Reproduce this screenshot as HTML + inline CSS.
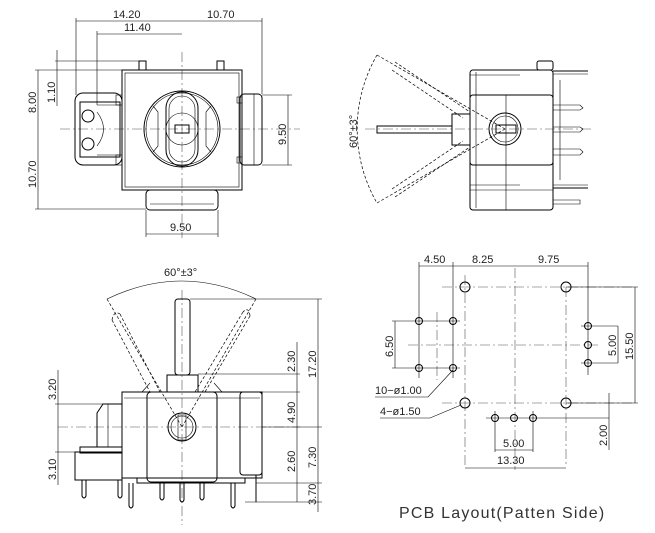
<!DOCTYPE html>
<html><head><meta charset="utf-8"><style>
html,body{margin:0;padding:0;background:#fff;width:655px;height:533px;overflow:hidden}
svg{display:block}
text{font-family:"Liberation Sans",sans-serif;font-size:11px;fill:#222}
.l{stroke:#000;stroke-width:1;fill:none}
.t{stroke:#000;stroke-width:0.6;fill:none}
.c{stroke:#555;stroke-width:0.6;fill:none;stroke-dasharray:10 3 2 3}
.d{stroke:#000;stroke-width:0.7;fill:none;stroke-dasharray:3 2}
</style></head><body>
<svg width="655" height="533" viewBox="0 0 655 533" xmlns="http://www.w3.org/2000/svg">
<!-- ============ TOP LEFT VIEW ============ -->
<g>
<line class="c" x1="182" y1="52" x2="182" y2="238"/>
<line class="c" x1="60" y1="129" x2="300" y2="129"/>
<rect class="l" x="122" y="70" width="120" height="120"/>
<rect class="t" x="125" y="73" width="114" height="114"/>
<rect class="l" x="139" y="61" width="7" height="9"/>
<rect class="l" x="217" y="61" width="7" height="9"/>
<rect class="l" x="75" y="93" width="47" height="72" rx="8"/>
<rect class="l" x="80" y="102" width="40" height="55"/>
<rect class="t" x="116" y="95" width="6" height="10"/>
<rect class="t" x="116" y="155" width="6" height="10"/>
<path class="t" d="M97 105 L120 105 L120 155 L97 155 M97 112 Q110 129 97 146"/>
<circle class="l" cx="88" cy="116" r="6"/>
<circle class="l" cx="88" cy="144" r="6"/>
<rect class="l" x="240" y="94" width="22" height="71" rx="4"/>
<line class="t" x1="254" y1="94" x2="254" y2="165"/>
<rect class="t" x="237" y="97" width="5" height="6"/>
<rect class="t" x="237" y="157" width="5" height="6"/>
<rect class="l" x="146" y="190" width="72" height="20" rx="4"/>
<line class="t" x1="150" y1="204" x2="214" y2="204"/>
<circle class="l" cx="182" cy="129" r="38"/>
<circle class="t" cx="182" cy="129" r="36"/>
<rect class="l" x="166" y="92" width="32" height="74" rx="16"/>
<rect class="t" x="169" y="96" width="26" height="66" rx="13"/>
<circle class="t" cx="182" cy="129" r="16"/>
<rect class="l" x="175" y="125" width="14" height="8"/>
<path class="t" d="M153 106 L158 112 L158 146 L153 152 M211 106 L206 112 L206 146 L211 152"/>
<!-- dims -->
<line class="t" x1="76" y1="18" x2="76" y2="95"/>
<line class="t" x1="97" y1="31" x2="97" y2="105"/>
<line class="t" x1="262" y1="18" x2="262" y2="94"/>
<line class="t" x1="76" y1="21" x2="262" y2="21"/>
<line class="t" x1="97" y1="34" x2="182" y2="34"/>
<text x="113" y="18">14.20</text><text x="207" y="18">10.70</text>
<text x="124" y="31">11.40</text>
<line class="t" x1="55" y1="61" x2="139" y2="61"/>
<line class="t" x1="57" y1="50" x2="57" y2="106"/>
<line class="t" x1="35" y1="70" x2="122" y2="70"/>
<line class="t" x1="38" y1="70" x2="38" y2="209"/>
<line class="t" x1="35" y1="209" x2="146" y2="209"/>
<text transform="translate(55,103) rotate(-90)">1.10</text>
<text transform="translate(36,113) rotate(-90)">8.00</text>
<text transform="translate(36,188) rotate(-90)">10.70</text>
<line class="t" x1="262" y1="95" x2="292" y2="95"/>
<line class="t" x1="262" y1="165" x2="292" y2="165"/>
<line class="t" x1="288" y1="95" x2="288" y2="165"/>
<text transform="translate(286,145) rotate(-90)">9.50</text>
<line class="t" x1="146" y1="210" x2="146" y2="237"/>
<line class="t" x1="218" y1="210" x2="218" y2="237"/>
<line class="t" x1="146" y1="234" x2="218" y2="234"/>
<text x="170" y="231">9.50</text>
</g>
<!-- ============ TOP RIGHT VIEW ============ -->
<g>
<line class="c" x1="365" y1="129" x2="592" y2="129"/>
<path class="d" d="M377 55 A148 148 0 0 0 377 203"/>
<text transform="translate(357,148) rotate(-90)">60°±3°</text>
<rect class="l" x="470" y="70" width="83" height="140" rx="3"/>
<rect class="l" x="470" y="95" width="83" height="70" rx="3"/>
<line class="t" x1="476" y1="72" x2="476" y2="208"/>
<line class="t" x1="506" y1="95" x2="506" y2="210"/>
<line class="t" x1="470" y1="75" x2="520" y2="75"/>
<line class="t" x1="470" y1="185" x2="520" y2="185"/>
<line class="t" x1="470" y1="190" x2="553" y2="190"/>
<rect class="l" x="537" y="61" width="16" height="9" rx="2"/>
<rect class="l" x="377" y="126" width="75" height="7"/>
<rect class="l" x="452" y="114" width="18" height="31"/>
<circle class="l" cx="505" cy="129" r="16"/>
<circle class="t" cx="505" cy="129" r="13"/>
<rect class="l" x="496" y="125" width="20" height="8"/>
<path class="d" d="M395 62 L470 112 M392 70 L463 118 M395 197 L470 147 M392 189 L463 141"/>
<line class="d" x1="377" y1="55" x2="505" y2="129"/><line class="d" x1="377" y1="203" x2="505" y2="129"/>
<line class="l" x1="553" y1="71" x2="588" y2="71"/><line class="t" x1="553" y1="74" x2="588" y2="74"/>
<line class="l" x1="553" y1="188" x2="588" y2="188"/><line class="t" x1="553" y1="185" x2="588" y2="185"/>
<path class="t" d="M553 105 L580 105 L583 108 L580 110 L553 110 M553 127 L580 127 L583 129 L580 132 L553 132 M553 149 L580 149 L583 152 L580 155 L553 155 M553 200 L580 200 L580 204 L553 204"/>
<line class="t" x1="560" y1="80" x2="560" y2="180"/>
</g>
<!-- ============ BOTTOM LEFT VIEW ============ -->
<g>
<line class="c" x1="182" y1="290" x2="182" y2="525"/>
<line class="c" x1="58" y1="427" x2="300" y2="427"/>
<path class="t" d="M107 299 Q182 263 256 299"/>
<text x="164" y="276">60°±3°</text>
<line class="d" x1="107" y1="299" x2="182" y2="427"/><line class="d" x1="256" y1="299" x2="182" y2="427"/>
<path class="d" d="M112 320 L150 392 M120 314 L160 392 M250 316 L205 392 M243 312 L195 392"/>
<path class="d" d="M112 320 Q114 310 120 314 M250 316 Q249 306 243 312"/>
<rect class="l" x="175" y="299" width="15" height="76" rx="3"/>
<rect class="l" x="167" y="375" width="31" height="17"/>
<path class="t" d="M142 392 L150 383 M222 392 L214 383"/>
<rect class="l" x="122" y="392" width="140" height="86"/>
<rect class="l" x="147" y="392" width="70" height="90" rx="4"/>
<line class="t" x1="124" y1="398" x2="260" y2="398"/>
<rect class="l" x="240" y="392" width="22" height="83" rx="3"/>
<circle class="l" cx="182" cy="427" r="14"/><circle class="t" cx="182" cy="427" r="11"/>
<rect class="t" x="178" y="415" width="8" height="25"/>
<rect class="l" x="137" y="478" width="108" height="5"/>
<path class="l" d="M160 483 L160 498 Q162 502 164 498 L164 483 M180 483 L180 500 Q182 504 184 500 L184 483 M200 483 L200 498 Q202 502 204 498 L204 483 M129 483 L129 506 Q131 510 133 506 L133 483 M231 483 L231 506 Q233 510 235 506 L235 483"/>
<rect class="l" x="75" y="452" width="47" height="28"/>
<rect class="l" x="80" y="447" width="42" height="6"/>
<path class="l" d="M97 447 L97 413 L103 404 L122 404 L122 447"/>
<line class="t" x1="108" y1="404" x2="108" y2="447"/>
<path class="l" d="M82 480 L82 496 Q84 500 86 496 L86 480 M118 480 L118 496 Q120 500 122 496 L122 480"/>
<line class="l" x1="256" y1="475" x2="256" y2="502"/>
<!-- right dims -->
<line class="t" x1="190" y1="299" x2="322" y2="299"/>
<line class="t" x1="198" y1="374" x2="300" y2="374"/>
<line class="t" x1="262" y1="392" x2="300" y2="392"/>
<line class="t" x1="262" y1="427" x2="322" y2="427"/>
<line class="t" x1="256" y1="483" x2="322" y2="483"/>
<line class="t" x1="245" y1="502" x2="322" y2="502"/>
<line class="t" x1="318" y1="299" x2="318" y2="512"/>
<line class="t" x1="297" y1="342" x2="297" y2="427"/>
<line class="t" x1="297" y1="427" x2="297" y2="502"/>
<text transform="translate(316,378) rotate(-90)">17.20</text>
<text transform="translate(295,372) rotate(-90)">2.30</text>
<text transform="translate(295,423) rotate(-90)">4.90</text>
<text transform="translate(316,468) rotate(-90)">7.30</text>
<text transform="translate(295,472) rotate(-90)">2.60</text>
<text transform="translate(316,505) rotate(-90)">3.70</text>
<!-- left dims -->
<line class="t" x1="58" y1="370" x2="58" y2="485"/>
<line class="t" x1="55" y1="404" x2="103" y2="404"/>
<line class="t" x1="55" y1="452" x2="80" y2="452"/>
<text transform="translate(56,400) rotate(-90)">3.20</text>
<text transform="translate(56,480) rotate(-90)">3.10</text>
</g>
<!-- ============ PCB VIEW ============ -->
<g>
<line class="c" x1="515" y1="268" x2="515" y2="470"/>
<line class="c" x1="408" y1="345" x2="600" y2="345"/>
<line class="c" x1="465" y1="275" x2="465" y2="465"/>
<line class="c" x1="566" y1="287" x2="566" y2="465"/>
<line class="c" x1="442" y1="287" x2="635" y2="287"/>
<line class="c" x1="442" y1="403" x2="635" y2="403"/>
<line class="c" x1="437" y1="312" x2="437" y2="380"/>
<circle class="l" cx="465" cy="287" r="5"/><circle class="l" cx="566" cy="287" r="5"/>
<circle class="l" cx="465" cy="403" r="5"/><circle class="l" cx="566" cy="403" r="5"/>
<g class="l">
<circle cx="419" cy="321" r="3.5"/><circle cx="453" cy="321" r="3.5"/>
<circle cx="419" cy="368" r="3.5"/><circle cx="453" cy="368" r="3.5"/>
<circle cx="588" cy="326" r="3.5"/><circle cx="588" cy="345" r="3.5"/><circle cx="588" cy="363" r="3.5"/>
<circle cx="495" cy="418" r="3.5"/><circle cx="514" cy="418" r="3.5"/><circle cx="533" cy="418" r="3.5"/>
</g>
<path class="t" d="M414 321 L460 321 M414 368 L460 368 M419 314 L419 378 M453 314 L453 378 M581 326 L618 326 M581 363 L618 363 M588 300 L588 375 M486 418 L609 418 M495 411 L495 452 M533 411 L533 452"/>
<!-- dims -->
<path class="t" d="M419 262 L419 314 M453 262 L453 314 M588 262 L588 300 M419 266 L588 266 M392 321 L414 321 M392 368 L414 368 M395 321 L395 368 M618 326 L618 363 M566 287 L638 287 M566 403 L638 403 M635 287 L635 403 M609 393 L609 450 M495 450 L533 450 M465 468 L566 468"/>
<text x="424" y="263">4.50</text><text x="472" y="263">8.25</text><text x="538" y="263">9.75</text>
<text transform="translate(393,357) rotate(-90)">6.50</text>
<text transform="translate(616,356) rotate(-90)">5.00</text>
<text transform="translate(633,360) rotate(-90)">15.50</text>
<text transform="translate(607,446) rotate(-90)">2.00</text>
<text x="503" y="447">5.00</text>
<text x="497" y="464">13.30</text>
<text x="375" y="394">10−ø1.00</text>
<path class="t" d="M375 397 L428 397 L453 370"/>
<text x="380" y="415">4−ø1.50</text>
<path class="t" d="M380 418 L430 418 L461 405"/>
<text x="399" y="518" style="font-size:16px;letter-spacing:1.2px;fill:#333">PCB Layout(Patten Side)</text>
</g>
</svg>
</body></html>
